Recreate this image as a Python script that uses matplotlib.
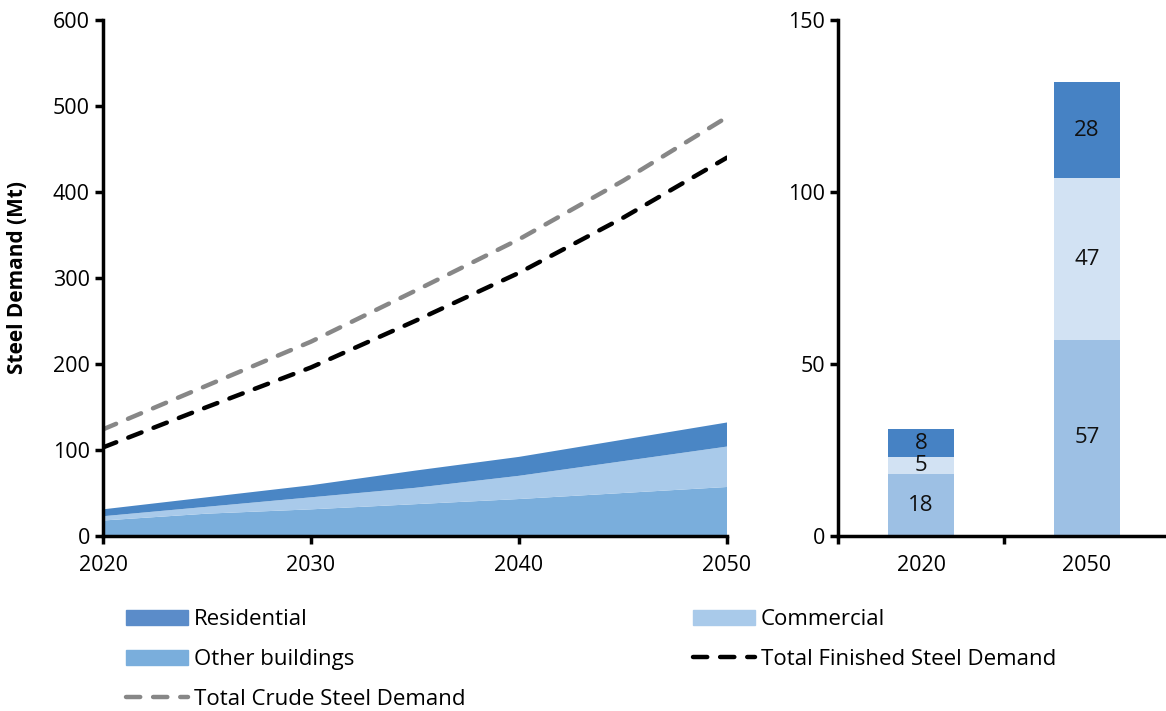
import numpy as np
import matplotlib
matplotlib.use('Agg')
import matplotlib.pyplot as plt
from matplotlib.patches import Patch
from matplotlib.lines import Line2D

plt.rcParams['font.family'] = ['Open Sans', 'DejaVu Sans']

# area chart data (Mt), read every 5 years
years = [2020, 2025, 2030, 2035, 2040, 2045, 2050]
other = [18, 26, 31, 37, 43, 50, 57]
commercial = [5, 8, 14, 19, 27, 37, 47]
residential = [8, 11, 14, 20, 22, 25, 28]
finished = [103, 150, 196, 250, 306, 370, 440]
crude = [124, 175, 226, 285, 345, 413, 487]

# bar chart data
bar_years = ['2020', '2050']
bar_other = [18, 57]
bar_comm = [5, 47]
bar_res = [8, 28]

c_res = '#4a86c5'
c_comm = '#a9caea'
c_other = '#7aaedc'
dash = (0, (3.2, 2.9))

fig = plt.figure(figsize=(11.66, 7.11), dpi=100)
ax1 = fig.add_axes([103/1166, 1-536/711, 624/1166, 516/711])
ax2 = fig.add_axes([838/1166, 1-536/711, 332/1166, 516/711])

ax1.stackplot(years, other, commercial, residential,
              colors=[c_other, c_comm, c_res], linewidth=0)
ax1.plot(years, finished, color='black', lw=3.2, ls=dash, dash_capstyle='round')
ax1.plot(years, crude, color='#878787', lw=3.2, ls=dash, dash_capstyle='round')

ax1.set_xlim(2020, 2050)
ax1.set_ylim(0, 600)
ax1.set_xticks([2020, 2030, 2040, 2050])
ax1.set_yticks(range(0, 601, 100))
ax1.set_ylabel('Steel Demand (Mt)', fontsize=15, fontweight='bold')
ax1.yaxis.set_label_coords(-0.12, 0.5)

# stacked bars
x = np.arange(len(bar_years))
b1 = ax2.bar(x, bar_other, 0.4, color='#9dc0e4')
b2 = ax2.bar(x, bar_comm, 0.4, bottom=bar_other, color='#d2e2f3')
bot = np.array(bar_other) + np.array(bar_comm)
b3 = ax2.bar(x, bar_res, 0.4, bottom=bot, color='#4682c4')
for bars in (b1, b2, b3):
    ax2.bar_label(bars, label_type='center', fontsize=16, color='#111111')
ax2.set_xlim(-0.5, 1.5)
ax2.set_ylim(0, 150)
ax2.set_yticks([0, 50, 100, 150])
ax2.set_xticks([-0.5, 0.5, 1.5], minor=False)
ax2.set_xticklabels(['', '', ''])
ax2.set_xticks(x, minor=True)
ax2.set_xticklabels(bar_years, minor=True)
ax2.tick_params(axis='x', which='minor', length=0, pad=14, labelsize=15.5)

for ax in (ax1, ax2):
    for s in ('top', 'right'):
        ax.spines[s].set_visible(False)
    ax.spines['left'].set_linewidth(2.5)
    ax.spines['bottom'].set_linewidth(2.5)
    ax.tick_params(axis='both', which='major', direction='out', length=6, width=2.5, labelsize=15.5)
ax1.tick_params(axis='x', pad=8)

handles = [Patch(color='#5b8cc9'), Patch(color=c_other),
           Line2D([], [], color='#878787', lw=3.2, ls=dash, dash_capstyle='round'),
           Patch(color=c_comm),
           Line2D([], [], color='black', lw=3.2, ls=dash, dash_capstyle='round')]
labels = ['Residential', 'Other buildings', 'Total Crude Steel Demand',
          'Commercial', 'Total Finished Steel Demand']
fig.legend(handles, labels, ncol=2, frameon=False, fontsize=16,
           loc='upper left', bbox_to_anchor=(106/1166, 1-589/711),
           handlelength=2.8, handleheight=0.65, handletextpad=0.25,
           columnspacing=10.25, labelspacing=0.85)

fig.savefig('out.png', dpi=100)
